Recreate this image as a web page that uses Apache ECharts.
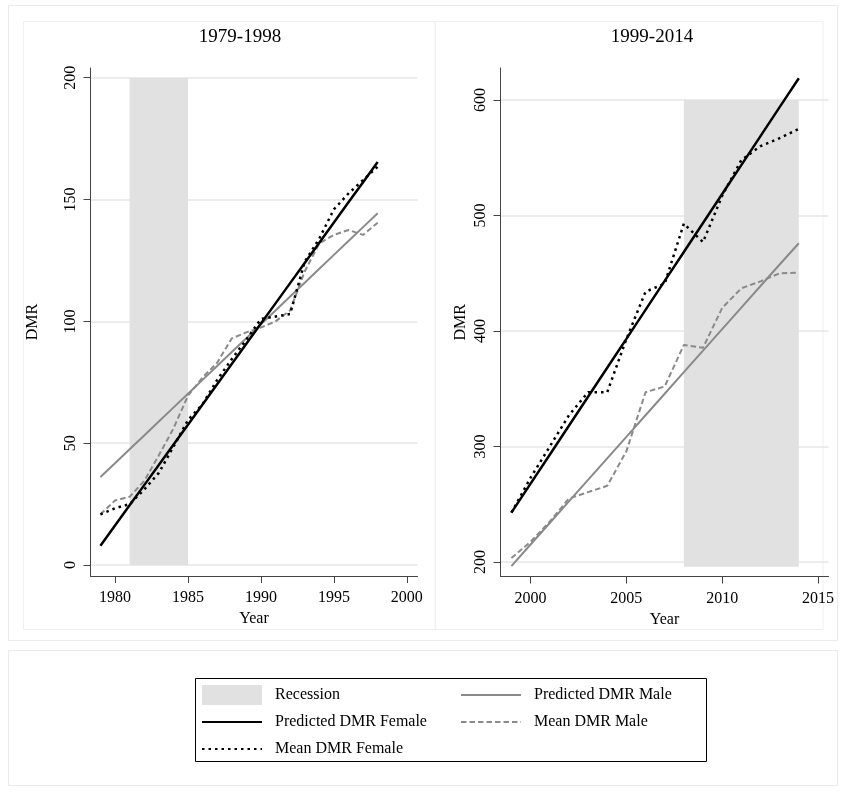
<!DOCTYPE html>
<html><head><meta charset="utf-8">
<script src="https://cdn.jsdelivr.net/npm/echarts@6/dist/echarts.min.js"></script>
<style>html,body{margin:0;padding:0;background:#fff}#c{width:846px;height:794px}</style>
</head><body><div id="c"></div>
<script>
// ---- data: panel A (1979-1998) ----
const yearsA = [1979,1980,1981,1982,1983,1984,1985,1986,1987,1988,1989,1990,1991,1992,1993,1994,1995,1996,1997,1998];
const predFemaleA = [7.9,16.2,24.5,32.8,41.1,49.4,57.6,65.9,74.2,82.5,90.8,99.1,107.4,115.7,124.0,132.3,140.6,148.9,157.1,165.4];
const meanFemaleA = [20.8,23.3,25.0,31.0,37.8,48.5,59.5,66.0,76.0,84.5,92.5,101.0,102.0,103.0,124.5,134.0,146.0,152.5,158.0,163.5];
const predMaleA   = [36.1,41.8,47.5,53.2,58.9,64.6,70.3,76.0,81.7,87.4,93.1,98.8,104.5,110.2,115.9,121.6,127.3,133.0,138.7,144.4];
const meanMaleA   = [20.8,26.5,28.0,34.5,45.0,56.0,69.5,77.0,83.0,93.0,95.5,97.5,100.0,104.5,120.5,132.0,135.5,137.5,135.5,140.5];
const recessionXA = [1981, 1985];
const recessionYA = [0, 200];
const xTicksA = [1980, 1985, 1990, 1995, 2000];
const yTicksA = [0, 50, 100, 150, 200];
const xRangeA = [1978.32, 2000.73];
const yRangeA = [-4.5, 204.0];

// ---- data: panel B (1999-2014) ----
const yearsB = [1999,2000,2001,2002,2003,2004,2005,2006,2007,2008,2009,2010,2011,2012,2013,2014];
const predFemaleB = [242.8,267.9,292.9,318.0,343.1,368.2,393.2,418.3,443.4,468.4,493.5,518.6,543.6,568.7,593.8,618.8];
const meanFemaleB = [242.8,273.0,300.0,327.0,347.0,347.0,393.0,434.0,441.0,493.0,477.0,517.0,548.0,560.0,567.0,575.0];
const predMaleB   = [196.5,215.2,233.8,252.5,271.1,289.8,308.4,327.1,345.7,364.4,383.0,401.7,420.3,439.0,457.6,476.0];
const meanMaleB   = [203.5,217.5,235.0,255.0,260.5,266.0,296.0,347.0,352.0,388.0,385.5,420.0,437.0,443.0,450.0,450.5];
const recessionXB = [2008, 2014];
const recessionYB = [196, 600];
const xTicksB = [2000, 2005, 2010, 2015];
const yTicksB = [200, 300, 400, 500, 600];
const xRangeB = [1998.43, 2015.55];
const yRangeB = [187.5, 627.7];

const titles = ['1979-1998', '1999-2014'];
const names = ['Recession', 'Predicted DMR Female', 'Mean DMR Female', 'Predicted DMR Male', 'Mean DMR Male'];

// ---- styling ----
const FONT = '"Liberation Serif","Times New Roman",serif';
const AXIS = '#444';
const GRID = '#e6e6e6';
const GRAY = '#8a8a8a';
const SHADE = '#e1e1e1';

function pairs(xs, ys) { return xs.map((x, i) => [x, ys[i]]); }
const plain = v => String(v);

function xAxisFor(gi, range, ticks) {
  return {
    type: 'value', gridIndex: gi, min: range[0], max: range[1],
    name: 'Year', nameLocation: 'middle', nameGap: 31,
    nameTextStyle: { fontFamily: FONT, fontSize: 16, color: '#000' },
    axisLine: { show: true, onZero: false, lineStyle: { color: AXIS, width: 1 } },
    axisTick: { show: true, length: 7, customValues: ticks, lineStyle: { color: AXIS } },
    axisLabel: { customValues: ticks, formatter: plain, margin: 14, fontFamily: FONT, fontSize: 16, color: '#000' },
    splitLine: { show: false }
  };
}
function yAxisFor(gi, range, ticks, gap) {
  return {
    type: 'value', gridIndex: gi, min: range[0], max: range[1],
    name: 'DMR', nameLocation: 'middle', nameGap: gap,
    nameTextStyle: { fontFamily: FONT, fontSize: 16, color: '#000' },
    axisLine: { show: true, onZero: false, lineStyle: { color: AXIS, width: 1 } },
    axisTick: { show: true, length: 7, customValues: ticks, lineStyle: { color: AXIS } },
    axisLabel: { customValues: ticks, formatter: plain, rotate: 90, margin: 12, fontFamily: FONT, fontSize: 16, color: '#000' },
    splitLine: { show: true, lineStyle: { color: GRID, width: 1.5 } }
  };
}
function lineSeries(name, gi, data, color, width, type) {
  return {
    name, type: 'line', xAxisIndex: gi, yAxisIndex: gi, data,
    symbol: 'none', showSymbol: false, silent: true, z: 3,
    itemStyle: { color },
    lineStyle: { color, width, type, cap: 'butt' },
    emphasis: { disabled: true }
  };
}
function recessionSeries(gi, xr, yr) {
  return {
    name: 'Recession', type: 'line', xAxisIndex: gi, yAxisIndex: gi, data: [],
    symbol: 'none', silent: true, z: 1,
    itemStyle: { color: SHADE }, lineStyle: { color: SHADE },
    markArea: {
      silent: true,
      itemStyle: { color: SHADE, borderWidth: 0 },
      data: [[{ xAxis: xr[0], yAxis: yr[0] }, { xAxis: xr[1], yAxis: yr[1] }]]
    }
  };
}

const panels = [
  { years: yearsA, pf: predFemaleA, mf: meanFemaleA, pm: predMaleA, mm: meanMaleA, rx: recessionXA, ry: recessionYA },
  { years: yearsB, pf: predFemaleB, mf: meanFemaleB, pm: predMaleB, mm: meanMaleB, rx: recessionXB, ry: recessionYB }
];
const series = [];
panels.forEach((p, gi) => {
  series.push(recessionSeries(gi, p.rx, p.ry));
  series.push(lineSeries(names[3], gi, pairs(p.years, p.pm), GRAY, 2, 'solid'));
  series.push(lineSeries(names[4], gi, pairs(p.years, p.mm), GRAY, 2, [5.5, 3]));
  series.push(lineSeries(names[1], gi, pairs(p.years, p.pf), '#000', 2.5, 'solid'));
  series.push(lineSeries(names[2], gi, pairs(p.years, p.mf), '#000', 2.5, [2.5, 4]));
});

const legendCommon = {
  orient: 'vertical', selectedMode: false, itemWidth: 60, itemHeight: 20, itemGap: 7, padding: 0,
  textStyle: { fontFamily: FONT, fontSize: 16, color: '#000', lineHeight: 20, padding: [0, 0, 0, 8] }
};
const lineItem = n => ({ name: n, itemStyle: { opacity: 0 } });

const option = {
  animation: false,
  backgroundColor: '#fff',
  title: [
    { text: titles[0], left: 240, top: 28, textAlign: 'center', padding: 0,
      textStyle: { fontFamily: FONT, fontSize: 19, fontWeight: 'normal', color: '#000' } },
    { text: titles[1], left: 652, top: 28, textAlign: 'center', padding: 0,
      textStyle: { fontFamily: FONT, fontSize: 19, fontWeight: 'normal', color: '#000' } }
  ],
  grid: [
    { left: 90.5, top: 68, width: 327, height: 508 },
    { left: 500.5, top: 68, width: 328, height: 508.5 }
  ],
  xAxis: [xAxisFor(0, xRangeA, xTicksA), xAxisFor(1, xRangeB, xTicksB)],
  yAxis: [yAxisFor(0, yRangeA, yTicksA, 50), yAxisFor(1, yRangeB, yTicksB, 32)],
  legend: [
    Object.assign({}, legendCommon, { left: 201, top: 685,
      data: [{ name: names[0], icon: 'rect', itemStyle: { color: SHADE, opacity: 1 } }, lineItem(names[1]), lineItem(names[2])] }),
    Object.assign({}, legendCommon, { left: 460, top: 685, data: [lineItem(names[3]), lineItem(names[4])] })
  ],
  graphic: [
    { type: 'rect', z: -10, silent: true, shape: { x: 8.5, y: 5.5, width: 829, height: 635 },
      style: { fill: null, stroke: '#ebebeb', lineWidth: 1 } },
    { type: 'rect', z: -10, silent: true, shape: { x: 23.5, y: 21.5, width: 411.5, height: 608 },
      style: { fill: null, stroke: '#f0f0f0', lineWidth: 1 } },
    { type: 'rect', z: -10, silent: true, shape: { x: 435.5, y: 21.5, width: 387.5, height: 608 },
      style: { fill: null, stroke: '#f0f0f0', lineWidth: 1 } },
    { type: 'rect', z: -10, silent: true, shape: { x: 8.5, y: 650.5, width: 829, height: 135 },
      style: { fill: null, stroke: '#ebebeb', lineWidth: 1 } },
    { type: 'rect', z: -10, silent: true, shape: { x: 195.5, y: 678.5, width: 511, height: 83 },
      style: { fill: null, stroke: '#000', lineWidth: 1 } }
  ],
  series
};

const chart = echarts.init(document.getElementById('c'), null, { renderer: 'canvas' });
chart.setOption(option);
</script>
</body></html>
